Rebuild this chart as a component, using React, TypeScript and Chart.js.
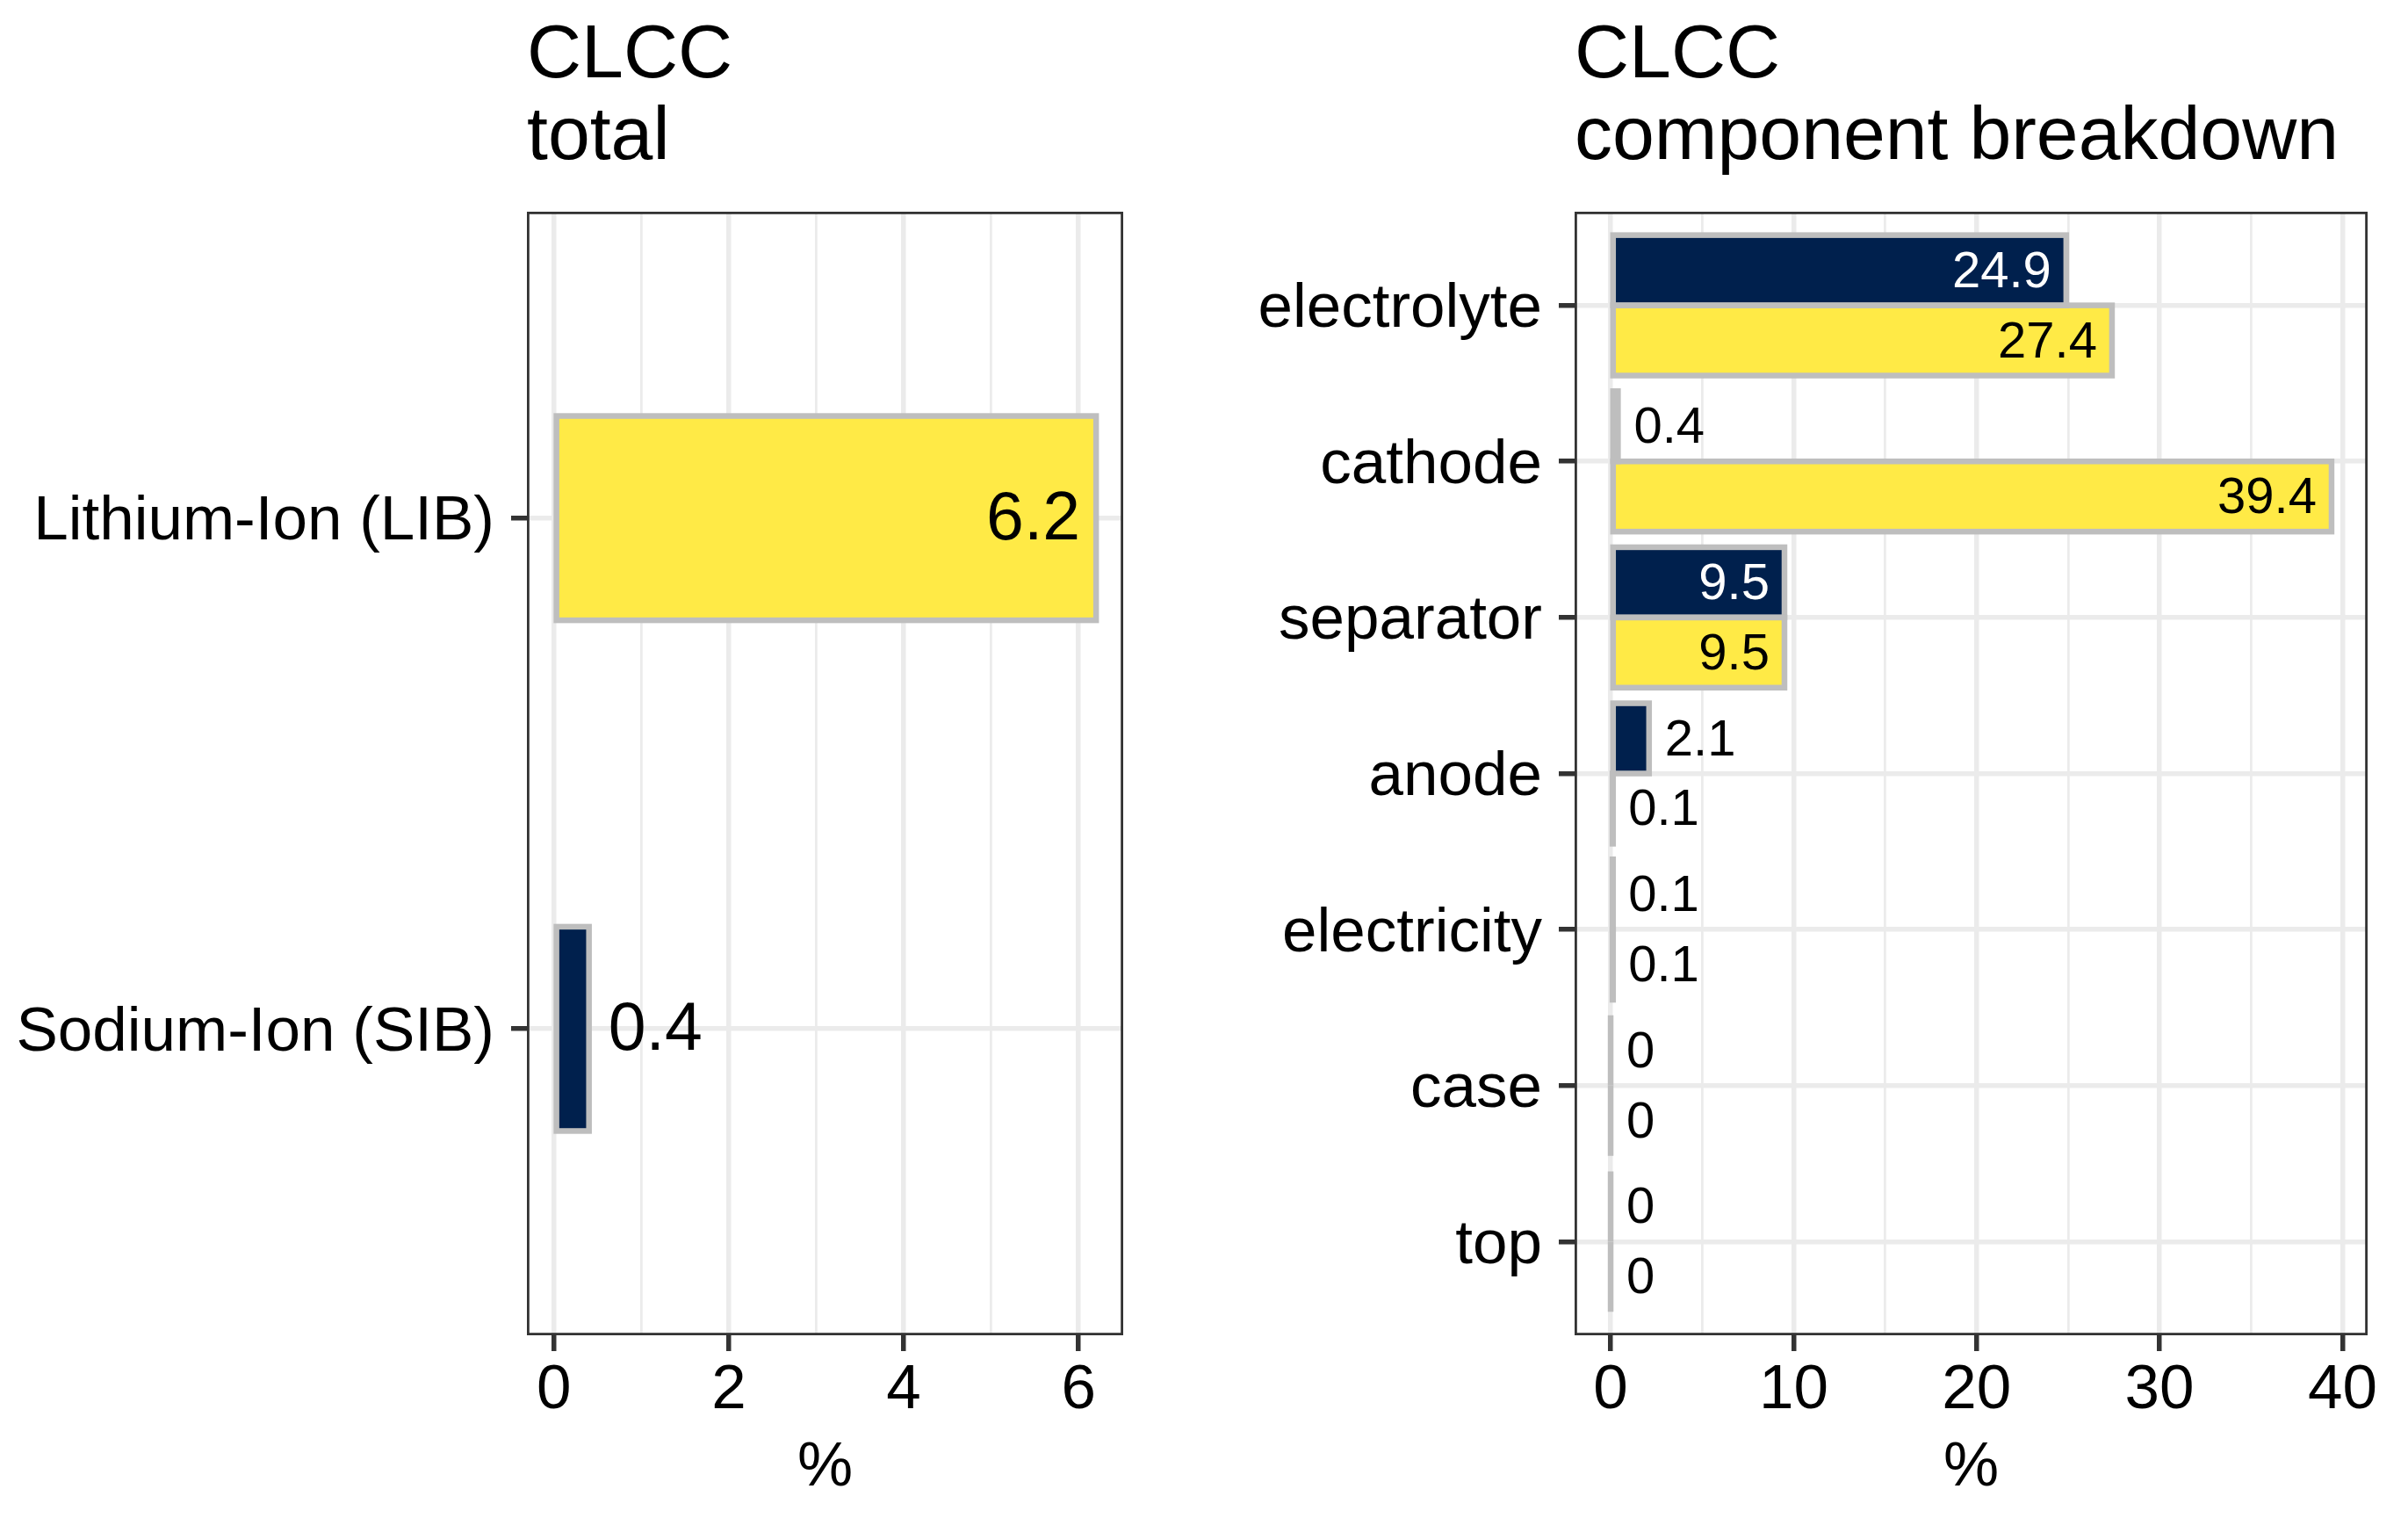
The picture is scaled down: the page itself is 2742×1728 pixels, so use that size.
import React, { useEffect, useRef } from 'react';
import { Chart, registerables } from 'chart.js';

Chart.register(...registerables);

// ---------- data ----------
const totalCategories = ['Lithium-Ion (LIB)', 'Sodium-Ion (SIB)'];
const totalValues = [6.2, 0.4];
const totalMajorTicks = [0, 2, 4, 6];
const totalMinorTicks = [1, 3, 5];
const totalTitle = ['CLCC', 'total'];

const componentCategories = ['electrolyte', 'cathode', 'separator', 'anode', 'electricity', 'case', 'top'];
const sibValues = [24.9, 0.4, 9.5, 2.1, 0.1, 0, 0];
const libValues = [27.4, 39.4, 9.5, 0.1, 0.1, 0, 0];
const componentMajorTicks = [0, 10, 20, 30, 40];
const componentMinorTicks = [5, 15, 25, 35];
const componentTitle = ['CLCC', 'component breakdown'];

const axisTitle = '%';

// ---------- style ----------
const NAVY = '#00204D';
const YELLOW = '#FFEA46';
const OUTLINE = '#BEBEBE';
const GRID = '#EBEBEB';
const DARK = '#333333';
const FAMILY = '"Liberation Sans", Arial, Helvetica, sans-serif';

const barDecor = {
  id: 'barDecor',
  afterDatasetsDraw(chart: any, _args: any, opts: any) {
    const ctx = chart.ctx as CanvasRenderingContext2D;
    const metas = chart.data.datasets.map((_: any, di: number) => chart.getDatasetMeta(di));
    // outlines (straddling the bar edges like ggplot)
    metas.forEach((meta: any) => {
      meta.data.forEach((el: any) => {
        const { x, y, base, height } = el.getProps(['x', 'y', 'base', 'height'], true);
        ctx.save();
        ctx.strokeStyle = OUTLINE;
        ctx.lineWidth = opts.outlineWidth;
        ctx.lineJoin = 'miter';
        ctx.strokeRect(Math.min(base, x), y - height / 2, Math.abs(x - base), height);
        ctx.restore();
      });
    });
    // value labels
    let maxVal = 0;
    chart.data.datasets.forEach((ds: any) => ds.data.forEach((p: any) => { maxVal = Math.max(maxVal, p.x); }));
    metas.forEach((meta: any, di: number) => {
      const ds = chart.data.datasets[di];
      meta.data.forEach((el: any, i: number) => {
        const v = ds.data[i].x;
        const { x, y } = el.getProps(['x', 'y'], true);
        const bg = Array.isArray(ds.backgroundColor) ? ds.backgroundColor[i] : ds.backgroundColor;
        const inside = v >= opts.threshold * maxVal;
        ctx.save();
        ctx.font = `${opts.fontSize}px ${FAMILY}`;
        ctx.textBaseline = 'middle';
        if (inside) {
          ctx.textAlign = 'right';
          ctx.fillStyle = bg === NAVY ? '#FFFFFF' : '#000000';
          ctx.fillText(String(v), x - opts.insideOffset, y + opts.dy);
        } else {
          ctx.textAlign = 'left';
          ctx.fillStyle = '#000000';
          ctx.fillText(String(v), x + opts.outsideOffset, y + opts.dy);
        }
        ctx.restore();
      });
    });
  },
};

const panelBorder = {
  id: 'panelBorder',
  afterDraw(chart: any) {
    const { ctx, chartArea } = chart;
    const w = 2.8;
    ctx.save();
    ctx.strokeStyle = DARK;
    ctx.lineWidth = w;
    ctx.strokeRect(chartArea.left + w / 2, chartArea.top + w / 2, chartArea.right - chartArea.left - w, chartArea.bottom - chartArea.top - w);
    ctx.restore();
  },
};

interface PanelSpec {
  categories: string[];
  datasets: any[];
  majorTicks: number[];
  minorTicks: number[];
  title: string[];
  yAxisWidth: number;
  padRight: number;
  catPct: number;
  labelFont: number;
  insideOffset: number;
  outsideOffset: number;
}

function makeConfig(p: PanelSpec): any {
  let maxVal = 0;
  p.datasets.forEach((d) => d.data.forEach((pt: any) => { maxVal = Math.max(maxVal, pt.x); }));
  const allTicks = [...p.majorTicks, ...p.minorTicks].sort((a, b) => a - b);
  const isMajor = (v: number) => p.majorTicks.includes(v);
  return {
    type: 'bar',
    data: { datasets: p.datasets },
    plugins: [barDecor, panelBorder],
    options: {
      indexAxis: 'y',
      animation: false,
      responsive: true,
      maintainAspectRatio: false,
      layout: { padding: { left: 0, right: p.padRight, top: 0, bottom: 0 } },
      datasets: { bar: { categoryPercentage: p.catPct, barPercentage: 1, borderWidth: 0, grouped: true } },
      plugins: {
        legend: { display: false },
        tooltip: { enabled: false },
        title: {
          display: true,
          text: p.title,
          align: 'start',
          fullSize: false,
          color: '#000000',
          font: { family: FAMILY, size: 86, weight: 'normal', lineHeight: '93px' },
          padding: { top: 18, bottom: 37 },
        },
        barDecor: {
          outlineWidth: 6.5,
          threshold: 0.15,
          fontSize: p.labelFont,
          insideOffset: p.insideOffset,
          outsideOffset: p.outsideOffset,
          dy: 3,
        },
      },
      scales: {
        x: {
          type: 'linear',
          min: -0.05 * maxVal,
          max: 1.05 * maxVal,
          offset: false,
          afterBuildTicks: (s: any) => { s.ticks = allTicks.map((v) => ({ value: v })); },
          afterFit: (s: any) => { s.height = 208; },
          ticks: {
            autoSkip: false,
            maxRotation: 0,
            padding: 3,
            color: '#000000',
            font: { family: FAMILY, size: 71 },
            callback: (v: any) => (isMajor(v) ? String(v) : ''),
          },
          grid: {
            offset: false,
            color: GRID,
            lineWidth: (c: any) => (c.tick && isMajor(c.tick.value) ? 5.5 : 2.75),
            tickColor: (c: any) => (c.tick && isMajor(c.tick.value) ? DARK : 'rgba(0,0,0,0)'),
            tickWidth: 5.5,
            tickLength: 18,
          },
          border: { display: false },
          title: {
            display: true,
            text: axisTitle,
            color: '#000000',
            font: { family: FAMILY, size: 71, lineHeight: 1.2 },
            padding: { top: 0, bottom: 14 },
          },
        },
        y: {
          type: 'linear',
          reverse: true,
          offset: false,
          min: 0.4,
          max: p.categories.length + 0.6,
          afterBuildTicks: (s: any) => { s.ticks = p.categories.map((_, i) => ({ value: i + 1 })); },
          afterFit: (s: any) => { s.width = p.yAxisWidth; },
          ticks: {
            autoSkip: false,
            padding: 19,
            labelOffset: 5,
            color: '#000000',
            font: { family: FAMILY, size: 71 },
            callback: (v: any) => p.categories[Math.round(v) - 1] ?? '',
          },
          grid: {
            offset: false,
            color: GRID,
            lineWidth: 5.5,
            tickColor: DARK,
            tickWidth: 5.5,
            tickLength: 18,
          },
          border: { display: false },
        },
      },
    },
  };
}

function ChartPanel({ spec, left, width }: { spec: PanelSpec; left: number; width: number }) {
  const ref = useRef<HTMLCanvasElement | null>(null);
  useEffect(() => {
    if (!ref.current) return;
    const chart = new Chart(ref.current, makeConfig(spec));
    return () => chart.destroy();
  }, [spec]);
  return (
    <div style={{ position: 'absolute', left, top: 0, width, height: 1728 }}>
      <canvas ref={ref} />
    </div>
  );
}

const totalSpec: PanelSpec = {
  categories: totalCategories,
  datasets: [
    {
      label: 'total',
      data: totalValues.map((v, i) => ({ x: v, y: i + 1 })),
      backgroundColor: [YELLOW, NAVY],
    },
  ],
  majorTicks: totalMajorTicks,
  minorTicks: totalMinorTicks,
  title: totalTitle,
  yAxisWidth: 600,
  padRight: 31,
  catPct: 0.4,
  labelFont: 77,
  insideOffset: 18,
  outsideOffset: 22,
};

const componentSpec: PanelSpec = {
  categories: componentCategories,
  datasets: [
    {
      label: 'Sodium-Ion (SIB)',
      data: sibValues.map((v, i) => ({ x: v, y: i + 1 })),
      backgroundColor: NAVY,
    },
    {
      label: 'Lithium-Ion (LIB)',
      data: libValues.map((v, i) => ({ x: v, y: i + 1 })),
      backgroundColor: YELLOW,
    },
  ],
  majorTicks: componentMajorTicks,
  minorTicks: componentMinorTicks,
  title: componentTitle,
  yAxisWidth: 463,
  padRight: 46,
  catPct: 0.9,
  labelFont: 58,
  insideOffset: 17,
  outsideOffset: 18,
};

export default function App() {
  return (
    <div style={{ position: 'absolute', left: 0, top: 0, width: 2742, height: 1728, background: '#FFFFFF', overflow: 'hidden' }}>
      <ChartPanel spec={totalSpec} left={0} width={1310} />
      <ChartPanel spec={componentSpec} left={1330} width={1412} />
    </div>
  );
}
